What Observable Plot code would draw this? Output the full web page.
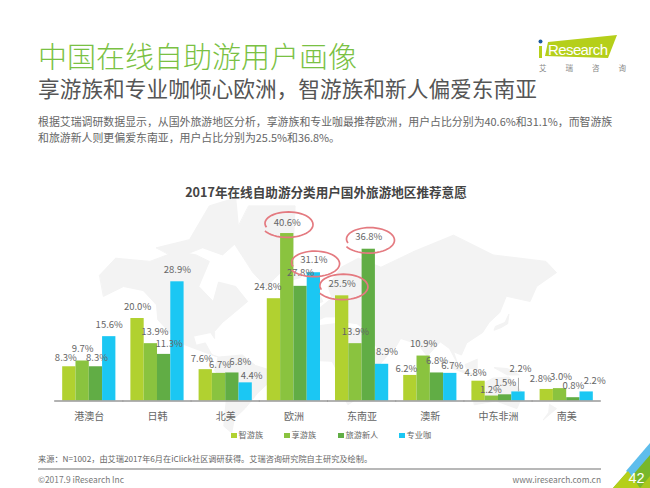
<!DOCTYPE html>
<html lang="zh">
<head>
<meta charset="utf-8">
<script src="https://cdn.jsdelivr.net/npm/d3@7"></script>
<script src="https://cdn.jsdelivr.net/npm/@observablehq/plot@0.6"></script>
<style>
  html,body{margin:0;padding:0;background:#fff;}
  body{position:relative;width:650px;height:488px;overflow:hidden;font-family:"Noto Sans CJK SC","Noto Sans",sans-serif;}
  .t{position:absolute;white-space:nowrap;}
  #map,#chart{position:absolute;left:0;}
  #map{top:0;} #chart{top:205px;}
  #map svg,#chart svg{display:block;}
  #title{left:38px;top:33px;font-size:29px;line-height:44px;color:#7ac143;font-weight:300;}
  #sub{left:38px;top:72px;font-size:21.7px;line-height:32px;color:#555;}
  #body{left:38px;top:113px;font-size:10.9px;line-height:16px;color:#666;}
  #ctitle{left:0;width:650px;text-align:center;top:182px;font-size:12.6px;line-height:20px;font-weight:700;color:#444;padding-left:2px;box-sizing:border-box;}
  .lg{top:427px;font-size:8.2px;line-height:14px;color:#666;}
  .lg i{display:inline-block;width:5.5px;height:5.5px;margin-right:2px;vertical-align:0;}
  #src{left:38px;top:452px;font-size:8.2px;line-height:12px;color:#666;}
  #rule{position:absolute;left:38px;top:467.5px;width:563px;height:2px;background:#b8b8b8;}
  #copy{left:38px;top:473px;font-size:8.4px;line-height:12px;color:#777;}
  #url{right:49px;top:473px;font-size:8.4px;line-height:12px;color:#777;}
  #deco{position:absolute;left:0;top:0;}
</style>
</head>
<body>
<div id="map"></div>
<div class="t" id="title">中国在线自助游用户画像</div>
<div class="t" id="sub">享游族和专业咖倾心欧洲，智游族和新人偏爱东南亚</div>
<div class="t" id="body">根据艾瑞调研数据显示，从国外旅游地区分析，享游族和专业咖最推荐欧洲，用户占比分别为40.6%和31.1%，而智游族<br>和旅游新人则更偏爱东南亚，用户占比分别为25.5%和36.8%。</div>
<div class="t" id="ctitle">2017年在线自助游分类用户国外旅游地区推荐意愿</div>
<div id="chart"></div>
<div id="legend"></div>
<div class="t" id="src">来源：N=1002，由艾瑞2017年6月在iClick社区调研获得。艾瑞咨询研究院自主研究及绘制。</div>
<div id="rule"></div>
<div class="t" id="copy">©2017.9 iResearch Inc</div>
<div class="t" id="url">www.iresearch.com.cn</div>
<svg id="deco" width="650" height="488" viewBox="0 0 650 488">
  <polygon points="548,42 617,35 608,58 545,56" fill="#b5cf1a"/>
  <circle cx="540.5" cy="41.5" r="2" fill="#1d5a9e"/>
  <rect x="539" y="46" width="3" height="12" fill="#b5cf1a"/>
  <text x="548" y="54.5" font-size="15" fill="#fff" font-family="Liberation Sans" textLength="60">Research</text>
  <text x="539" y="71" font-size="7.5" fill="#888" font-family="Noto Sans CJK SC" letter-spacing="19">艾瑞咨询</text>
  <polygon points="613,488 650,446 650,488" fill="#78b72a"/>
  <polygon points="626,471 650,443 650,455 632,476" fill="#5ebdec"/>
  <polygon points="613,488 628,471 640,488" fill="#b5cf1a"/>
  <polygon points="640,488 650,476 650,488" fill="#a9c81d"/>
  <text x="636.5" y="483" font-size="14.5" fill="#fff" text-anchor="middle" font-family="Liberation Sans">42</text>
</svg>
<script>
const groups = ["港澳台","日韩","北美","欧洲","东南亚","澳新","中东非洲","南美"];
const seriesNames = ["智游族","享游族","旅游新人","专业咖"];
const zhiyou  = [8.3,20.0,7.6,24.8,25.5,6.2,4.8,2.8];
const xiangyou= [9.7,13.9,6.7,40.6,13.9,10.9,1.2,3.0];
const xinren  = [8.3,11.3,6.8,27.8,36.8,6.8,1.5,0.8];
const zhuanye = [15.6,28.9,4.4,31.1,8.9,6.7,2.2,2.2];
const seriesValues = [zhiyou,xiangyou,xinren,zhuanye];
const colors = ["#b1d130","#8ac33f","#61ad45","#1bc7f3"];
const circled = [["欧洲","享游族"],["欧洲","专业咖"],["东南亚","智游族"],["东南亚","旅游新人"]];

const rows = seriesNames.flatMap((s,i)=>groups.map((g,j)=>({group:g,series:s,value:seriesValues[i][j]})));

// label nudges [dx,dy] from the top of each bar: one row per series, one pair per region
const nudge = [
 [[-3.5,-9],[0,-12],[-4,-11],[-6,-12],[0,-12],[-4,-6],[-3,-8],[-6,-10]],
 [[0,-12],[4,-12],[1,-8],[0,-11],[0,-12],[0,-12],[-1,-6],[1,-12]],
 [[1,-9],[5,-10],[8,-11],[0,-13],[0,-12],[0,-12],[0,-12],[0,-12]],
 [[0,-12],[0,-12],[6,-7],[0,-13],[5,-12],[2,-7],[2,-23],[8,-11]]
];

// rough continents, [lon,lat]
const land = [
 [[-168,65],[-156,71],[-130,70],[-110,73],[-95,72],[-85,70],[-93,60],[-82,52],[-78,62],[-65,60],[-56,52],[-66,45],[-75,38],[-81,31],[-81,25],[-84,30],[-97,27],[-95,19],[-88,21],[-83,10],[-78,8],[-85,11],[-105,20],[-115,30],[-124,40],[-125,50],[-135,58],[-150,60],[-165,55]],
 [[-125,74],[-100,76],[-85,82],[-65,83],[-62,76],[-75,72],[-90,74],[-110,71]],
 [[-55,82],[-20,82],[-22,70],[-42,60],[-52,66],[-68,76]],
 [[-78,8],[-60,10],[-50,0],[-35,-6],[-39,-15],[-48,-25],[-58,-38],[-66,-45],[-68,-54],[-74,-50],[-72,-30],[-70,-18],[-81,-5]],
 [[-16,15],[-17,22],[-6,35],[10,37],[32,31],[37,20],[43,12],[51,11],[40,-5],[40,-15],[33,-26],[20,-35],[15,-25],[13,-8],[8,4],[-8,5]],
 [[-9,37],[-9,43],[0,49],[8,54],[5,60],[15,68],[28,71],[45,68],[70,73],[100,77],[130,72],[170,70],[178,66],[163,60],[158,52],[140,55],[135,45],[127,38],[122,30],[110,21],[106,10],[100,13],[103,2],[97,16],[90,22],[80,9],[73,20],[60,25],[56,17],[44,13],[35,30],[27,37],[20,38],[12,42],[3,42]],
 [[114,-22],[130,-12],[142,-11],[153,-26],[148,-38],[132,-32],[116,-35]],
 [[131,32],[136,34],[141,37],[142,44],[139,38],[132,35]],
 [[-8,52],[-2,51],[1,52],[-3,58],[-6,56]],
 [[-24,65],[-14,65],[-16,64],[-22,63]],
 [[96,5],[105,-4],[115,-8],[125,-9],[108,-7],[100,-3]],
 [[109,1],[118,6],[118,-3],[110,-3]],
 [[131,-2],[141,-3],[150,-9],[141,-9]],
 [[44,-16],[50,-14],[47,-25],[44,-24]],
 [[173,-35],[178,-38],[168,-46],[172,-41]]
];
const mapProjection = d3.geoTransform({
  point(lon,lat){
    const m = Math.log(Math.tan(Math.PI/4 + lat*Math.PI/360));
    this.stream.point(321 + 1.32*lon, 365 - 60*m);
  }
});
document.getElementById("map").append(Plot.plot({
  width:650,height:488,margin:0,
  style:{background:"transparent"},
  projection:mapProjection,
  marks:[Plot.geo(land.map(r=>({type:"Polygon",coordinates:[[...r,r[0]]]})),{fill:"#f3f3f3",stroke:"#f3f3f3"})]
}));

const scribble = {
  draw(ctx,size){
    const r = Math.sqrt(size/Math.PI);
    const n = 48;
    for(let k=0;k<=n;k++){
      const u = k/n;
      const a = (165 + u*345)*Math.PI/180;
      const s = 0.86 + 0.17*Math.sin(Math.min(u*2.2,1)*Math.PI/2);
      const x = r*s*Math.cos(a), y = r*0.5*s*Math.sin(a);
      k ? ctx.lineTo(x,y) : ctx.moveTo(x,y);
    }
  }
};

const labelMarks = rows.map((d)=>{
  const [dx,dy] = nudge[seriesNames.indexOf(d.series)][groups.indexOf(d.group)];
  return Plot.text([d],{fx:"group",x:"series",y:"value",text:v=>v.value.toFixed(1)+"%",dx,dy,fontSize:9.5,fill:"#666"});
});

const circleRows = rows.filter(d=>circled.some(c=>c[0]===d.group&&c[1]===d.series));

document.getElementById("chart").append(Plot.plot({
  width:650,height:225,
  marginLeft:54,marginRight:49,marginTop:0,marginBottom:29.5,
  style:{background:"transparent",fontFamily:'"Noto Sans CJK SC","Noto Sans",sans-serif',overflow:"visible",color:"#666"},
  fx:{domain:groups,paddingInner:0.22,paddingOuter:0.12,round:false,axis:"bottom",label:null,tickSize:0,tickPadding:12,fontSize:9.4},
  x:{domain:seriesNames,axis:null,padding:0,round:false},
  y:{domain:[0,47.4],axis:null},
  color:{domain:seriesNames,range:colors},
  marks:[
    Plot.barY(rows,{fx:"group",x:"series",y:"value",fill:"series",inset:0}),
    Plot.ruleY([0],{stroke:"#999",strokeWidth:1.6,insetLeft:-8,insetRight:-8}),
    Plot.ruleX(rows.filter(d=>d.group==="中东非洲"&&d.series==="专业咖"),{fx:"group",x:"series",y1:"value",y2:d=>d.value+3.3,stroke:"#aaa"}),
    ...labelMarks,
    Plot.dot(circleRows,{fx:"group",x:"series",y:"value",dy:-9,r:25,symbol:scribble,fill:"none",stroke:"#e47a80",strokeWidth:1.7})
  ]
}));

const legendX = [231,284,338,399];
const legend = document.getElementById("legend");
seriesNames.forEach((s,i)=>{
  const el = document.createElement("div");
  el.className="t lg"; el.style.left=legendX[i]+"px";
  el.innerHTML=`<i style="background:${colors[i]}"></i>${s}`;
  legend.append(el);
});
</script>
</body>
</html>
